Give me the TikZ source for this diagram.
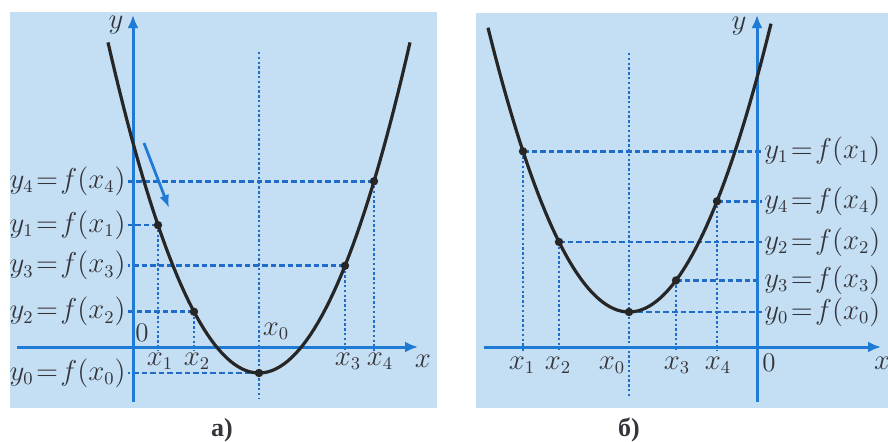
\documentclass[tikz,border=0pt]{standalone}
\usepackage{fontspec}
\newfontfamily\capfont{Liberation Serif}
\usetikzlibrary{arrows.meta}
\definecolor{PanelBlue}{HTML}{C4DFF4}
\definecolor{AxisBlue}{HTML}{1F7AD6}
\definecolor{GridBlue}{HTML}{1F6CCB}
\definecolor{InkGray}{HTML}{34343A}

\begin{document}
\begin{tikzpicture}[x=0.5pt, y=-0.5pt,
  axis/.style={AxisBlue, line width=1.5pt, -{Latex[length=6.5pt,width=5.5pt]}},
  curve/.style={black!85, line width=1.6pt},
  hdash/.style={GridBlue, line width=1.4pt, dash pattern=on 2.8pt off 1.5pt},
  vdot/.style={GridBlue, line width=1.4pt, dash pattern=on 1.2pt off 1.2pt},
  bullet/.style={circle, fill=black!85, inner sep=0pt, minimum size=4.2pt},
  lbl/.style={text=InkGray, font=\fontsize{13.5}{15}\selectfont, inner sep=1pt},
  caption/.style={text=InkGray, font=\capfont\bfseries\fontsize{13}{15}\selectfont},
  declare function={fa(\x)=373-1.45*((\x-259)/10)^2; fb(\x)=312-1.43*((\x-629)/10)^2;}]
  \useasboundingbox (0,0) rectangle (888,441);

  % --- panel a
  \fill[PanelBlue] (10,12) rectangle (437,408);
  \coordinate (aYb) at (133,402);
  \coordinate (aYt) at (133,15);
  \coordinate (aXl) at (17,347);
  \coordinate (aXr) at (418,347);
  \coordinate (aL) at (128,0);
  \coordinate (aB) at (0,351);
  \foreach \n/\px in {0/259,1/158,2/194,3/345,4/374}
    \coordinate (a\n) at (\px,{fa(\px)});
  \coordinate (a0t) at (259,52);
  \coordinate (a0b) at (259,398);

  \foreach \n in {0,...,4} \draw[hdash] (a\n) -- (a\n -| aL);
  \foreach \n in {1,...,4} \draw[vdot] (a\n) -- (a\n |- aB);
  \draw[vdot] (a0t) -- (a0b);
  \draw[axis] (aYb) -- (aYt);
  \draw[axis] (aXl) -- (aXr);
  \draw[curve] plot[domain=108:410, samples=80] (\x,{fa(\x)});
  \foreach \n in {0,...,4} \node[bullet] (da\n) at (a\n) {};
  % direction of decrease
  \coordinate (arA) at (144,143);
  \coordinate (arB) at (169,208);
  \draw[AxisBlue, line width=1.4pt, -{Latex[length=6.5pt,width=5pt]}] (arA) -- (arB);

  \foreach \n in {0,...,4}
    \node[lbl, anchor=east] (ay\n) at (a\n -| aL) {$y_{\n}\mkern1.5mu{=}\mkern1.5mu f(x_{\n})$};
  \node[lbl] (ax1) at (160,361) {$x_1$};
  \node[lbl] (ax2) at (197,361) {$x_2$};
  \node[lbl] (ax3) at (348,361) {$x_3$};
  \node[lbl] (ax4) at (380,361) {$x_4$};
  \node[lbl] (ax0) at (276,331) {$x_0$};
  \node[lbl] (aO) at (142,333) {0};
  \node[lbl] (aylab) at (116,25) {$y$};
  \node[lbl] (axlab) at (423,361) {$x$};
  \node[caption] (capa) at (222,430) {а)};

  % --- panel b
  \fill[PanelBlue] (476,13) rectangle (888,408);
  \coordinate (bYb) at (757,402);
  \coordinate (bYt) at (757,15);
  \coordinate (bXl) at (484,347);
  \coordinate (bXr) at (881,347);
  \coordinate (bR) at (762,0);
  \coordinate (bB) at (0,351);
  \foreach \n/\px in {0/629,1/523,2/559,3/676,4/717}
    \coordinate (b\n) at (\px,{fb(\px)});
  \coordinate (b0t) at (629,53);
  \coordinate (b0b) at (629,398);

  \foreach \n in {0,...,4} \draw[hdash] (b\n) -- (b\n -| bR);
  \foreach \n in {1,...,4} \draw[vdot] (b\n) -- (b\n |- bB);
  \draw[vdot] (b0t) -- (b0b);
  \draw[axis] (bYb) -- (bYt);
  \draw[axis] (bXl) -- (bXr);
  \draw[curve] plot[domain=488:771, samples=80] (\x,{fb(\x)});
  \foreach \n in {0,...,4} \node[bullet] (db\n) at (b\n) {};

  \foreach \n in {0,...,4}
    \node[lbl, anchor=west] (by\n) at (b\n -| bR) {$y_{\n}\mkern1.5mu{=}\mkern1.5mu f(x_{\n})$};
  \node[lbl] (bx1) at (522,365) {$x_1$};
  \node[lbl] (bx2) at (558,365) {$x_2$};
  \node[lbl] (bx0) at (612,365) {$x_0$};
  \node[lbl] (bx3) at (677,365) {$x_3$};
  \node[lbl] (bx4) at (718,365) {$x_4$};
  \node[lbl] (bO) at (769,363) {0};
  \node[lbl] (bylab) at (739,26) {$y$};
  \node[lbl] (bxlab) at (882,363) {$x$};
  \node[caption] (capb) at (629,430) {б)};
\end{tikzpicture}
\end{document}
